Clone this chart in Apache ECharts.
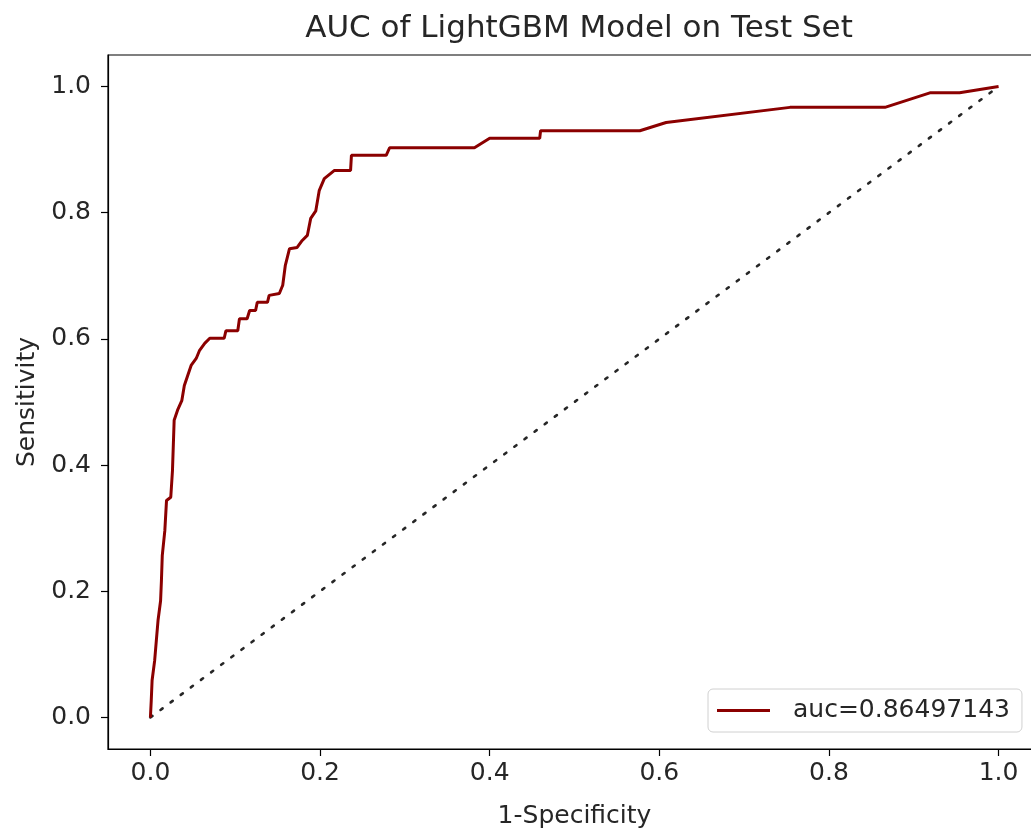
<!DOCTYPE html>
<html>
<head>
<meta charset="utf-8">
<script src="https://cdn.jsdelivr.net/npm/echarts@6/dist/echarts.min.js"></script>
<style>
  html, body { margin: 0; padding: 0; background: #fff; }
  #chart { width: 1031px; height: 829px; }
</style>
</head>
<body>
<div id="chart"></div>
<script>
  // ROC curve points
  const fpr = [0, 0.001, 0.002, 0.005, 0.007, 0.009, 0.012, 0.013, 0.014, 0.017, 0.019, 0.024, 0.026, 0.028,
    0.032, 0.037, 0.040, 0.044, 0.048, 0.054, 0.058, 0.064, 0.070, 0.087, 0.089, 0.103, 0.105, 0.114, 0.117,
    0.124, 0.126, 0.138, 0.140, 0.152, 0.156, 0.159, 0.164, 0.173, 0.179, 0.185, 0.189, 0.195, 0.199, 0.205,
    0.217, 0.236, 0.237, 0.278, 0.282, 0.382, 0.400, 0.459, 0.460, 0.577, 0.608, 0.754, 0.866, 0.919, 0.954, 1.0]
  const tpr = [0, 0.027, 0.059, 0.090, 0.122, 0.154, 0.185, 0.217, 0.257, 0.296, 0.344, 0.349, 0.391, 0.471,
    0.487, 0.502, 0.526, 0.542, 0.558, 0.569, 0.582, 0.593, 0.601, 0.601, 0.613, 0.613, 0.632, 0.632, 0.645,
    0.645, 0.658, 0.658, 0.669, 0.672, 0.685, 0.716, 0.743, 0.745, 0.756, 0.764, 0.791, 0.803, 0.835, 0.854,
    0.867, 0.867, 0.891, 0.891, 0.903, 0.903, 0.918, 0.918, 0.930, 0.930, 0.943, 0.967, 0.967, 0.990, 0.990, 1.0]
  const diagX = [0, 1]
  const diagY = [0, 1]
  const tickValues = [0, 0.2, 0.4, 0.6, 0.8, 1.0]
  const aucLabel = 'auc=0.86497143'

  const chart = echarts.init(document.getElementById('chart'))
  const font = 'DejaVu Sans'

  const axisCommon = {
    type: 'value',
    min: -0.05,
    max: 1.05,
    splitLine: { show: false },
    axisLine: { show: true, onZero: false, lineStyle: { color: '#000', width: 1.2 } },
    axisTick: { show: true, customValues: tickValues, length: 7, lineStyle: { color: '#000', width: 1.2 } },
    axisLabel: {
      customValues: tickValues,
      formatter: v => v.toFixed(1),
      color: '#262626',
      fontFamily: font,
      fontSize: 25
    },
    nameLocation: 'middle',
    nameTextStyle: { color: '#262626', fontFamily: font, fontSize: 25 }
  }

  chart.setOption({
    animation: false,
    title: {
      text: 'AUC of LightGBM Model on Test Set',
      left: 574,
      textAlign: 'center',
      top: 8,
      textStyle: { color: '#262626', fontFamily: font, fontSize: 31, fontWeight: 'normal' }
    },
    grid: {
      left: 108,
      right: -10,
      top: 55,
      bottom: 80,
      show: true,
      borderColor: '#000',
      borderWidth: 1.2,
      containLabel: false,
      outerBoundsMode: 'none'
    },
    legend: {
      left: 708,
      top: 689,
      padding: [9, 12, 9, 9],
      itemWidth: 53,
      itemHeight: 3,
      icon: 'rect',
      borderColor: '#d0d0d0',
      borderWidth: 1,
      borderRadius: 5,
      backgroundColor: 'rgba(255,255,255,0.8)',
      textStyle: { color: '#262626', fontFamily: font, fontSize: 25, padding: [0, 0, 0, 18] },
      data: [aucLabel]
    },
    xAxis: Object.assign({}, axisCommon, {
      name: '1-Specificity',
      nameGap: 55,
      axisLabel: Object.assign({}, axisCommon.axisLabel, { margin: 12 })
    }),
    yAxis: Object.assign({}, axisCommon, {
      name: 'Sensitivity',
      nameGap: 66,
      axisLabel: Object.assign({}, axisCommon.axisLabel, { margin: 17 })
    }),
    series: [
      {
        name: aucLabel,
        type: 'line',
        data: fpr.map((x, i) => [x, tpr[i]]),
        symbol: 'none',
        color: '#8b0000',
        lineStyle: { color: '#8b0000', width: 3 },
        z: 3
      },
      {
        name: 'diag',
        type: 'line',
        data: diagX.map((x, i) => [x, diagY[i]]),
        symbol: 'none',
        lineStyle: { color: '#262626', width: 2.6, type: [2.6, 10], cap: 'round' },
        z: 2
      }
    ]
  })
</script>
</body>
</html>
